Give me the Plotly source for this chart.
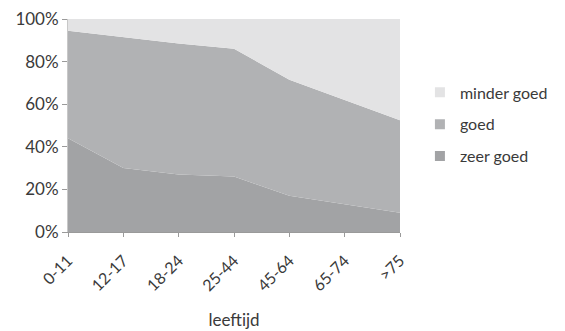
import plotly.graph_objects as go

# age groups on the x axis
leeftijd = ["0-11", "12-17", "18-24", "25-44", "45-64", "65-74", ">75"]

# share of respondents per rating (percent)
zeer_goed = [44, 30, 27, 26, 17, 13, 9]
goed = [50.5, 61.5, 61.5, 60, 54.5, 49, 43.5]
minder_goed = [5.5, 8.5, 11.5, 14, 28.5, 38, 47.5]

series = [
    ("zeer goed", zeer_goed, "#a2a3a5"),
    ("goed", goed, "#b1b2b4"),
    ("minder goed", minder_goed, "#e3e3e4"),
]

fig = go.Figure()
for name, vals, col in series:
    fig.add_trace(go.Scatter(
        x=leeftijd, y=vals, name=name, mode="lines",
        stackgroup="one", line=dict(width=0, color=col),
        fillcolor=col, hoverinfo="skip", showlegend=False,
    ))

# legend keys as small squares, top series listed first
for name, vals, col in reversed(series):
    fig.add_trace(go.Scatter(
        x=[None], y=[None], name=name, mode="markers",
        marker=dict(symbol="square", size=10, color=col),
        legendgroup=name, showlegend=True,
    ))

font_family = "Lato, 'Open Sans', sans-serif"
fig.update_layout(
    width=565, height=331,
    margin=dict(l=68, r=149, t=19, b=99),
    paper_bgcolor="white", plot_bgcolor="white",
    font=dict(family=font_family, color="#3a3a3a", size=16),
    showlegend=True,
    legend=dict(
        traceorder="grouped", x=1.06, y=0.735,
        xanchor="left", yanchor="top",
        font=dict(size=16, color="#3a3a3a"), itemwidth=30,
        tracegroupgap=8, bgcolor="rgba(0,0,0,0)",
    ),
    xaxis=dict(
        type="category", range=[0, 6], showgrid=False, automargin=False,
        showline=True, linecolor="#9a9a9a", linewidth=1,
        ticks="outside", ticklen=4, tickcolor="#9a9a9a",
        tickangle=-45, tickfont=dict(size=16), ticklabelstandoff=8,
        title=dict(text="leeftijd", font=dict(size=17), standoff=20),
    ),
    yaxis=dict(
        range=[0, 100], tickvals=[0, 20, 40, 60, 80, 100],
        ticktext=["0%", "20%", "40%", "60%", "80%", "100%"],
        showgrid=False, zeroline=False, automargin=False,
        showline=True, linecolor="#c8c8c8", linewidth=1,
        ticks="outside", ticklen=5, tickcolor="#9a9a9a",
        tickfont=dict(size=17),
    ),
)

fig.write_html("out.html")
